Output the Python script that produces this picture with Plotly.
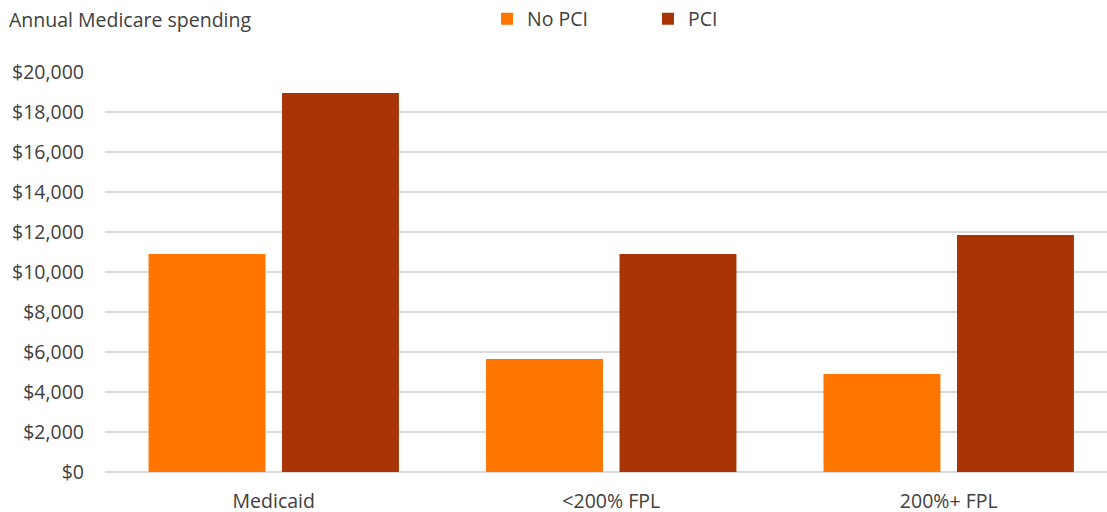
import plotly.graph_objects as go

# Annual Medicare spending by dual-eligibility / income group
categories = ["Medicaid", "<200% FPL", "200%+ FPL"]
no_pci = [10900, 5650, 4900]
pci = [18950, 10900, 11850]

tick_vals = [0, 2000, 4000, 6000, 8000, 10000, 12000, 14000, 16000, 18000, 20000]
tick_text = ["$0", "$2,000", "$4,000", "$6,000", "$8,000", "$10,000",
             "$12,000", "$14,000", "$16,000", "$18,000", "$20,000"]

FONT = "Open Sans"
FS = 19.5
TEXT = "#404040"
GRID = "#d9d9d9"

fig = go.Figure()
fig.add_trace(go.Bar(name="No PCI", x=categories, y=no_pci,
                     marker=dict(color="#FF7600", line=dict(width=0))))
fig.add_trace(go.Bar(name="PCI", x=categories, y=pci,
                     marker=dict(color="#A93507", line=dict(width=0))))

fig.update_layout(
    width=1107, height=512,
    margin=dict(l=105, r=0, t=72, b=40),
    paper_bgcolor="white", plot_bgcolor="white",
    barmode="group", bargap=0.209, bargroupgap=0.124,
    font=dict(family=FONT, size=FS, color=TEXT),
    title=dict(text="Annual Medicare spending", xref="container", yref="container",
               x=9 / 1107, xanchor="left", y=1 - 20 / 512, yanchor="middle",
               font=dict(family=FONT, size=FS, color=TEXT)),
    legend=dict(orientation="h", xref="paper", yref="container",
                x=(487 - 105) / 1002, xanchor="left", y=1 - 19 / 512, yanchor="middle",
                entrywidth=116, entrywidthmode="pixels",
                font=dict(family=FONT, size=FS, color=TEXT),
                bgcolor="rgba(0,0,0,0)", traceorder="normal"),
    showlegend=True,
)

fig.update_xaxes(type="category", range=[-0.5, 2.469], showgrid=False,
                 showline=False, ticks="", ticklabelstandoff=15, automargin=False,
                 tickfont=dict(family=FONT, size=FS, color=TEXT))
fig.update_yaxes(range=[0, 20000], tickvals=tick_vals, ticktext=tick_text,
                 showgrid=True, gridcolor=GRID, gridwidth=1.5,
                 zeroline=True, zerolinecolor=GRID, zerolinewidth=1.5,
                 showline=False, ticks="", ticklabelstandoff=20, automargin=False,
                 tickfont=dict(family=FONT, size=FS, color=TEXT))

fig.write_html("out.html")
